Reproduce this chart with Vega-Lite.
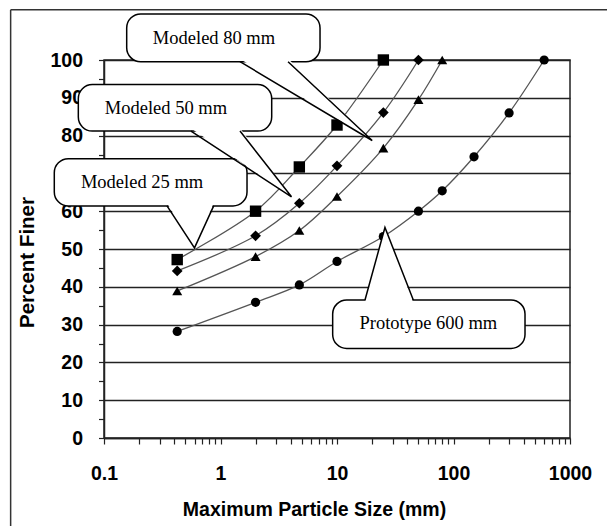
{
  "$schema": "https://vega.github.io/schema/vega-lite/v6.json",
  "width": 466,
  "height": 378,
  "autosize": {"type": "none"},
  "padding": {"left": 104, "top": 60, "right": 38, "bottom": 89},
  "background": "white",
  "config": {
    "view": {"stroke": "#222", "strokeWidth": 1.5},
    "axis": {"labelColor": "black", "titleColor": "black", "domainColor": "#222", "tickColor": "#222"}
  },
  "datasets": {
    "series": [
      {"s": "Modeled 25 mm", "x": 0.425, "y": 47.2},
      {"s": "Modeled 25 mm", "x": 2, "y": 60},
      {"s": "Modeled 25 mm", "x": 4.75, "y": 71.7},
      {"s": "Modeled 25 mm", "x": 10, "y": 82.8},
      {"s": "Modeled 25 mm", "x": 25, "y": 100},
      {"s": "Modeled 50 mm", "x": 0.425, "y": 44.2},
      {"s": "Modeled 50 mm", "x": 2, "y": 53.5},
      {"s": "Modeled 50 mm", "x": 4.75, "y": 62.1},
      {"s": "Modeled 50 mm", "x": 10, "y": 72},
      {"s": "Modeled 50 mm", "x": 25, "y": 86.1},
      {"s": "Modeled 50 mm", "x": 50, "y": 100},
      {"s": "Modeled 80 mm", "x": 0.425, "y": 38.9},
      {"s": "Modeled 80 mm", "x": 2, "y": 48},
      {"s": "Modeled 80 mm", "x": 4.75, "y": 54.9},
      {"s": "Modeled 80 mm", "x": 10, "y": 63.9},
      {"s": "Modeled 80 mm", "x": 25, "y": 76.7},
      {"s": "Modeled 80 mm", "x": 50, "y": 89.5},
      {"s": "Modeled 80 mm", "x": 80, "y": 100},
      {"s": "Prototype 600 mm", "x": 0.425, "y": 28.2},
      {"s": "Prototype 600 mm", "x": 2, "y": 35.9},
      {"s": "Prototype 600 mm", "x": 4.75, "y": 40.5},
      {"s": "Prototype 600 mm", "x": 10, "y": 46.7},
      {"s": "Prototype 600 mm", "x": 25, "y": 53.3},
      {"s": "Prototype 600 mm", "x": 50, "y": 60},
      {"s": "Prototype 600 mm", "x": 80, "y": 65.4},
      {"s": "Prototype 600 mm", "x": 150, "y": 74.4},
      {"s": "Prototype 600 mm", "x": 300, "y": 86},
      {"s": "Prototype 600 mm", "x": 600, "y": 100}
    ],
    "boxes": [
      {"c": "Modeled 80 mm", "x": 0.1566, "x2": 7.15, "y": 112.2, "y2": 99.55},
      {"c": "Modeled 50 mm", "x": 0.0602, "x2": 2.751, "y": 93.5, "y2": 81.2},
      {"c": "Modeled 25 mm", "x": 0.03744, "x2": 1.689, "y": 73.9, "y2": 61.4},
      {"c": "Prototype 600 mm", "x": 9.18, "x2": 411, "y": 36.5, "y2": 23.7}
    ],
    "pointers": [
      {"c": "Modeled 80 mm", "o": 1, "x": 1.47, "y": 99.55, "fy": 100.3},
      {"c": "Modeled 80 mm", "o": 2, "x": 20.05, "y": 78.7, "fy": 78.7},
      {"c": "Modeled 80 mm", "o": 3, "x": 3.8, "y": 99.55, "fy": 100.3},
      {"c": "Modeled 50 mm", "o": 1, "x": 0.558, "y": 81.2, "fy": 81.95},
      {"c": "Modeled 50 mm", "o": 2, "x": 4.07, "y": 63.8, "fy": 63.8},
      {"c": "Modeled 50 mm", "o": 3, "x": 1.47, "y": 81.2, "fy": 81.95},
      {"c": "Modeled 25 mm", "o": 1, "x": 0.3474, "y": 61.4, "fy": 62.15},
      {"c": "Modeled 25 mm", "o": 2, "x": 0.598, "y": 50.3, "fy": 50.3},
      {"c": "Modeled 25 mm", "o": 3, "x": 0.874, "y": 61.4, "fy": 62.15},
      {"c": "Prototype 600 mm", "o": 1, "x": 17.39, "y": 36.5, "fy": 35.75},
      {"c": "Prototype 600 mm", "o": 2, "x": 25.8, "y": 55.7, "fy": 55.7},
      {"c": "Prototype 600 mm", "o": 3, "x": 45.2, "y": 36.5, "fy": 35.75}
    ],
    "labels": [
      {"t": "Modeled 80 mm", "x": 0.879, "y": 105.8},
      {"t": "Modeled 50 mm", "x": 0.34, "y": 87.4},
      {"t": "Modeled 25 mm", "x": 0.212, "y": 67.6},
      {"t": "Prototype 600 mm", "x": 60.8, "y": 30.4}
    ],
    "border": [
      {"c": "top", "x": 0.0158, "x2": 2078, "y": 113.3, "y2": 113.3},
      {"c": "left", "x": 0.0158, "x2": 0.0158, "y": 113.3, "y2": -23.3}
    ]
  },
  "encoding": {
    "x": {
      "field": "x",
      "type": "quantitative",
      "scale": {"type": "log", "domain": [0.1, 1000], "nice": false},
      "axis": {
        "values": [0.1, 0.2, 0.3, 0.4, 0.5, 0.6, 0.7, 0.8, 0.9, 1, 2, 3, 4, 5, 6, 7, 8, 9, 10, 20, 30, 40, 50, 60, 70, 80, 90, 100, 200, 300, 400, 500, 600, 700, 800, 900, 1000],
        "labelExpr": "indexof([0.1, 1, 10, 100, 1000], datum.value) >= 0 ? '' + datum.value : ''",
        "labelOverlap": false,
        "labelFlush": false,
        "grid": false,
        "tickSize": 6,
        "tickWidth": 1.2,
        "domainWidth": 1.5,
        "labelFont": "Liberation Sans",
        "labelFontWeight": "bold",
        "labelFontSize": 19.5,
        "labelPadding": 20,
        "title": "Maximum Particle Size (mm)",
        "titleFont": "Liberation Sans",
        "titleFontWeight": "bold",
        "titleFontSize": 19.5,
        "titleX": 210,
        "titleY": 71,
        "titleBaseline": "middle",
        "titleAlign": "center"
      }
    },
    "y": {
      "field": "y",
      "type": "quantitative",
      "scale": {"domain": [0, 100], "nice": false, "zero": false},
      "axis": {
        "values": [0, 5, 10, 15, 20, 25, 30, 35, 40, 45, 50, 55, 60, 65, 70, 75, 80, 85, 90, 95, 100],
        "labelExpr": "datum.value % 10 === 0 ? datum.label : ''",
        "labelOverlap": false,
        "labelFlush": false,
        "grid": true,
        "gridColor": "#222",
        "gridWidth": 1.5,
        "gridOpacity": {"condition": {"test": "datum.value % 10 === 0", "value": 1}, "value": 0},
        "tickSize": 5.5,
        "tickWidth": 1.2,
        "domainWidth": 1.5,
        "labelFont": "Liberation Sans",
        "labelFontWeight": "bold",
        "labelFontSize": 19.5,
        "labelPadding": 16,
        "title": "Percent Finer",
        "titleFont": "Liberation Sans",
        "titleFontWeight": "bold",
        "titleFontSize": 20.5,
        "titleAngle": -90,
        "titleX": -77,
        "titleY": 202,
        "titleBaseline": "middle",
        "titleAlign": "center"
      }
    }
  },
  "layer": [
    {
      "data": {"name": "series"},
      "mark": {"type": "line", "interpolate": "catmull-rom", "stroke": "#555", "strokeWidth": 1.3},
      "encoding": {"detail": {"field": "s"}, "order": {"field": "x", "type": "quantitative"}}
    },
    {
      "data": {"name": "series"},
      "mark": {"type": "point", "filled": true, "color": "black", "opacity": 1},
      "encoding": {
        "shape": {
          "field": "s",
          "type": "nominal",
          "scale": {"domain": ["Modeled 25 mm", "Modeled 50 mm", "Modeled 80 mm", "Prototype 600 mm"], "range": ["square", "diamond", "triangle-up", "circle"]},
          "legend": null
        },
        "size": {
          "field": "s",
          "type": "ordinal",
          "scale": {"domain": ["Modeled 25 mm", "Modeled 50 mm", "Modeled 80 mm", "Prototype 600 mm"], "range": [130, 85, 110, 125]},
          "legend": null
        }
      }
    },
    {
      "data": {"name": "boxes"},
      "mark": {"type": "rect", "fill": "white", "stroke": "black", "strokeWidth": 1.5, "cornerRadius": 14},
      "encoding": {"x2": {"field": "x2"}, "y2": {"field": "y2"}}
    },
    {
      "data": {"name": "pointers"},
      "mark": {"type": "line", "fill": "white", "stroke": "white", "strokeWidth": 0.1},
      "encoding": {
        "y": {"field": "fy", "type": "quantitative"},
        "detail": {"field": "c"},
        "order": {"field": "o", "type": "quantitative"}
      }
    },
    {
      "data": {"name": "pointers"},
      "mark": {"type": "line", "stroke": "black", "strokeWidth": 1.5},
      "encoding": {
        "detail": {"field": "c"},
        "order": {"field": "o", "type": "quantitative"}
      }
    },
    {
      "data": {"name": "labels"},
      "mark": {"type": "text", "font": "Liberation Serif", "fontSize": 18.5, "color": "black", "align": "center", "baseline": "middle"},
      "encoding": {"text": {"field": "t"}}
    },
    {
      "data": {"name": "border"},
      "mark": {"type": "rule", "color": "#333", "strokeWidth": 1.5},
      "encoding": {"x2": {"field": "x2"}, "y2": {"field": "y2"}}
    }
  ]
}
